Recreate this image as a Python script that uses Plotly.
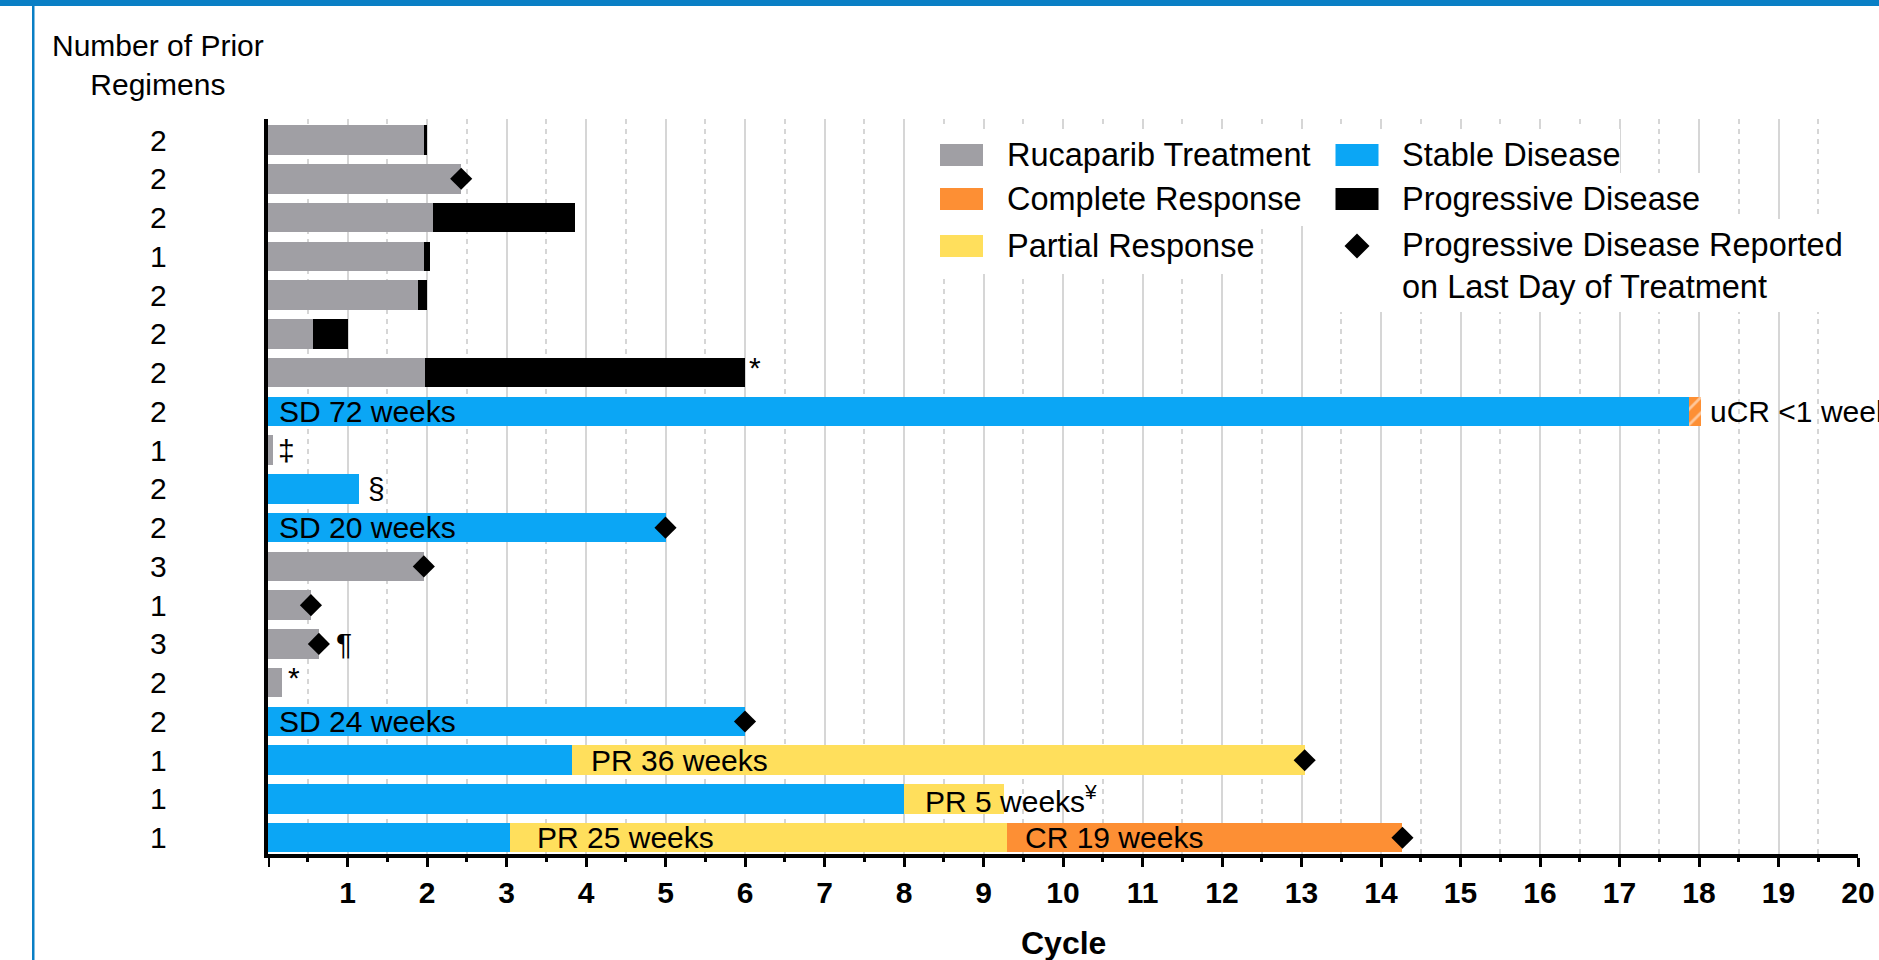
import plotly.graph_objects as go

# ---------------------------------------------------------------- data
# one row per patient, listed top to bottom
n_prior = [2, 2, 2, 1, 2, 2, 2, 2, 1, 2, 2, 3, 1, 3, 2, 2, 1, 1, 1]

# cycle at which each phase ends (None = phase not present for that patient)
rucaparib_end = [1.96, 2.43, 2.08, 1.96, 1.89, 0.57, 1.97, None, 0.06, None,
                 None, 1.96, 0.54, 0.64, 0.18, None, None, None, None]
stable_end = [None, None, None, None, None, None, None, 17.87, None, 1.15,
              5.00, None, None, None, None, 6.00, 3.83, 8.00, 3.04]
partial_end = [None] * 16 + [13.04, 9.26, 9.30]
complete_end = [None] * 18 + [14.27]
unconfirmed_cr_end = [None] * 7 + [18.03] + [None] * 11
progressive_end = [2.00, None, 3.86, 2.04, 2.00, 1.00, 6.00] + [None] * 12

# progressive disease reported on the last day of treatment
pd_last_day = [False, True, False, False, False, False, False, False, False, False,
               True, True, True, True, False, True, True, False, True]

sd_labels = {7: "SD 72 weeks", 10: "SD 20 weeks", 15: "SD 24 weeks"}
pr_labels = {16: "PR 36 weeks", 17: "PR 5 weeks<sup>¥</sup>", 18: "PR 25 weeks"}
cr_labels = {18: "CR 19 weeks"}
ucr_labels = {7: "uCR <1 week"}
footnotes = {6: "*", 8: "‡", 9: "§", 13: "¶", 14: "*"}

x_ticks = list(range(1, 21))
x_ticktext = [str(v) for v in x_ticks]

# ---------------------------------------------------------------- style
GRAY = "#a09fa4"
BLUE = "#0ba6f5"
ORANGE = "#fd8f34"
YELLOW = "#ffdf5c"
BLACK = "#000000"
FRAME = "#0a7fc5"
GRID = "#d6d6d6"
FONT = "Liberation Sans, Arial, sans-serif"

W, H = 1879, 960
ML, MR, MT, MB = 268, 21, 119, 106
PW, PH = W - ML - MR, H - MT - MB
BAR_W = 0.76


def px(x):
    """pixel column -> paper x"""
    return (x - ML) / PW


def py(y):
    """pixel row -> paper y"""
    return (H - MB - y) / PH


rows = list(range(len(n_prior)))


def segment(start, end):
    ys, base, length = [], [], []
    for i in rows:
        e = end[i]
        if e is None:
            continue
        s = 0.0 if start is None else start[i]
        ys.append(i)
        base.append(s)
        length.append(e - s)
    return ys, base, length


fig = go.Figure()


def add_bar(start, end, color, pattern=None):
    ys, base, length = segment(start, end)
    marker = dict(color=color, line=dict(width=0))
    if pattern:
        marker["pattern"] = pattern
    fig.add_trace(go.Bar(y=ys, x=length, base=base, orientation="h", width=BAR_W,
                         marker=marker, showlegend=False, hoverinfo="skip"))


add_bar(None, rucaparib_end, GRAY)
add_bar(rucaparib_end, progressive_end, BLACK)
add_bar(None, stable_end, BLUE)
add_bar(stable_end, partial_end, YELLOW)
add_bar(partial_end, complete_end, ORANGE)
add_bar(stable_end, unconfirmed_cr_end, ORANGE,
        pattern=dict(shape="/", bgcolor=ORANGE, fgcolor="white", size=11, solidity=0.25))


def last_end(i):
    vals = [a[i] for a in (rucaparib_end, stable_end, partial_end, complete_end,
                           unconfirmed_cr_end, progressive_end) if a[i] is not None]
    return max(vals)


dx = [last_end(i) for i in rows if pd_last_day[i]]
dy = [i for i in rows if pd_last_day[i]]
fig.add_trace(go.Scatter(x=dx, y=dy, mode="markers", showlegend=False, hoverinfo="skip",
                         marker=dict(symbol="diamond", size=17, color=BLACK, line=dict(width=0)),
                         cliponaxis=False))

annotations = []
TXT = dict(family=FONT, size=30, color=BLACK)


def label(x, y, text, shift, yshift=0, size=30):
    annotations.append(dict(x=x, y=y, xref="x", yref="y", text=text, showarrow=False,
                            xanchor="left", yanchor="middle", xshift=shift, yshift=yshift,
                            font=dict(family=FONT, size=size, color=BLACK)))


for i, t in sd_labels.items():
    label(0, i, t, 9)
pr_shift = {16: 17, 17: 19, 18: 25}
for i, t in pr_labels.items():
    label(stable_end[i], i, t, pr_shift[i])
for i, t in cr_labels.items():
    label(partial_end[i], i, t, 16)
for i, t in ucr_labels.items():
    label(unconfirmed_cr_end[i], i, t, 7)

fn_shift = {6: 2, 8: 3, 9: 7, 13: 15, 14: 4}
fn_yshift = {6: 5, 8: 0, 9: 0, 13: 0, 14: 5}
for i, t in footnotes.items():
    label(last_end(i), i, t, fn_shift[i], fn_yshift[i])

# number of prior regimens, one per row
for i in rows:
    annotations.append(dict(x=px(158), y=i, xref="paper", yref="y", text=str(n_prior[i]),
                            showarrow=False, xanchor="center", yanchor="middle", font=TXT))

annotations.append(dict(x=px(158), y=py(65), xref="paper", yref="paper",
                        text="Number of Prior<br>Regimens", showarrow=False,
                        xanchor="center", yanchor="middle", align="center", font=TXT))

annotations.append(dict(x=px(1063), y=py(943), xref="paper", yref="paper", text="Cycle",
                        showarrow=False, xanchor="center", yanchor="middle",
                        font=dict(family=FONT, size=32, color=BLACK, weight="bold")))

# ---------------------------------------------------------------- legend
shapes = []


def rect_px(x0, y0, x1, y1, color):
    shapes.append(dict(type="rect", xref="paper", yref="paper", x0=px(x0), x1=px(x1),
                       y0=py(y1), y1=py(y0), fillcolor=color, line=dict(width=0),
                       layer="above"))


# white backing behind each legend entry
for box in [(932, 129, 1320, 180), (932, 174, 1306, 226), (932, 220, 1260, 274),
            (1326, 129, 1620, 180), (1326, 173, 1710, 220), (1326, 219, 1850, 312)]:
    rect_px(*box, "white")

LEG_FONT = 32.5
LEG_ROWS = [155, 199, 246]
LEG_COLS = [(961.5, 1005), (1357, 1400)]
legend_items = [
    ("Rucaparib Treatment", GRAY, 0, 0),
    ("Complete Response", ORANGE, 0, 1),
    ("Partial Response", YELLOW, 0, 2),
    ("Stable Disease", BLUE, 1, 0),
    ("Progressive Disease", BLACK, 1, 1),
    ("Progressive Disease Reported<br>on Last Day of Treatment", None, 1, 2),
]
for text, color, c, r in legend_items:
    cx, tx = LEG_COLS[c]
    cy = LEG_ROWS[r]
    if color is not None:
        rect_px(cx - 21.5, cy - 11, cx + 21.5, cy + 11, color)
        ty = cy
    else:
        d = 12.5
        shapes.append(dict(type="path", xref="paper", yref="paper", layer="above",
                           path=f"M {px(cx)} {py(cy - d)} L {px(cx + d)} {py(cy)} "
                                f"L {px(cx)} {py(cy + d)} L {px(cx - d)} {py(cy)} Z",
                           fillcolor=BLACK, line=dict(width=0)))
        ty = cy + 19.5
    annotations.append(dict(x=px(tx), y=py(ty), xref="paper", yref="paper", text=text,
                            showarrow=False, xanchor="left", yanchor="middle", align="left",
                            font=dict(family=FONT, size=LEG_FONT, color=BLACK)))

# tick mark at cycle 0, continuing the vertical axis below the baseline
shapes.append(dict(type="line", xref="x", yref="paper", x0=0, x1=0, y0=py(854), y1=py(867),
                   line=dict(color=BLACK, width=4), layer="above"))

# page frame: top band and left rule
shapes.append(dict(type="rect", xref="paper", yref="paper", x0=px(0), x1=px(W),
                   y0=py(6), y1=py(0), fillcolor=FRAME, line=dict(width=0), layer="above"))
shapes.append(dict(type="rect", xref="paper", yref="paper", x0=px(32), x1=px(34.5),
                   y0=py(H), y1=py(0), fillcolor=FRAME, line=dict(width=0), layer="above"))

# ---------------------------------------------------------------- layout
fig.update_layout(
    width=W, height=H,
    margin=dict(l=ML, r=MR, t=MT, b=MB, pad=0, autoexpand=False),
    paper_bgcolor="white", plot_bgcolor="white",
    barmode="overlay", bargap=0,
    showlegend=False,
    font=dict(family=FONT, size=30, color=BLACK),
    annotations=annotations,
    shapes=shapes,
    xaxis=dict(
        range=[0, 20], tickmode="array", tickvals=x_ticks, ticktext=x_ticktext,
        automargin=False,
        showline=True, linecolor=BLACK, linewidth=4,
        ticks="outside", ticklen=9, tickwidth=3, tickcolor=BLACK,
        tickfont=dict(family=FONT, size=30, color=BLACK, weight="bold"),
        showgrid=True, gridcolor=GRID, gridwidth=2, zeroline=False,
        minor=dict(tick0=0.5, dtick=1, ticks="outside", ticklen=4, tickwidth=3,
                   tickcolor=BLACK, showgrid=True, gridcolor=GRID, gridwidth=2,
                   griddash="5px,5px"),
    ),
    yaxis=dict(
        range=[18.42, -0.542], automargin=False,
        showline=True, linecolor=BLACK, linewidth=4,
        showticklabels=False, ticks="", showgrid=False, zeroline=False,
    ),
)

fig.write_html("out.html")
